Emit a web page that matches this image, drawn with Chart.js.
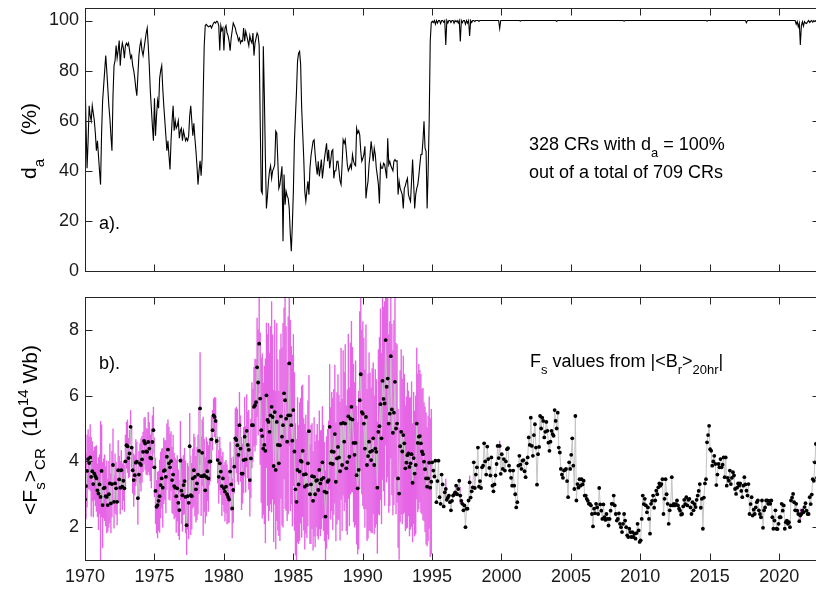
<!DOCTYPE html>
<html><head><meta charset="utf-8">
<script src="https://cdn.jsdelivr.net/npm/chart.js@4.4.1/dist/chart.umd.min.js"></script>
<style>
html,body{margin:0;padding:0;background:#fff;overflow:hidden;width:816px;height:589px;}
#c1{position:absolute;left:0;top:0;}
#c2{position:absolute;left:0;top:285px;}
</style></head><body>
<canvas id="c1" width="830" height="285"></canvas>
<canvas id="c2" width="830" height="304"></canvas>
<script>
// ---------------- data ----------------
const startYear = 1970.0;            // time of first Carrington rotation in the plot
const crLength = 27.2753 / 365.25;   // one Carrington rotation in years
const xTickYears = [1970, 1975, 1980, 1985, 1990, 1995, 2000, 2005, 2010, 2015, 2020];
const daTicks = [0, 20, 40, 60, 80, 100];
const fsTicks = [2, 4, 6, 8];

// d_a (%) per CR, 709 CRs
const daValues = [
 78,58,41,52,66,62,60,66,63,60,
 55,48,52,46,40,34.5,55,68,74,80,
 86,80,73,66,61,54,48,70,82,84,
 90,85,88,92,82,88,91,89,85,90,
 91,90,91,88,85,86,82,80,77,73,
 70,78,86,90,92,88,86,89,92,95,
 97,90,82,72,65,58,52,69,54,62,
 68,65,77,80,82,73,66,60,54,48,
 52,46,40.5,52,60,66,56,60,57,58,
 60,53,56,57,52,56,54,52,53,52,
 54,62,66,60,54,59,53,48,42,34.5,
 40,44,38,45,70,90,98,98.5,98,97.5,
 97.7,98,97,98,99,99.4,99,99.7,99.5,98,
 88,98,96,97,88,97,98,95,94,91.7,
 88,93,96,99,98,97,95,94,92,93,
 91,92,91.7,97,91.7,95.7,94,92,90,94,
 92,91,95,86,91,93,95,94,90,60,
 32,31,89.7,70,45,25,30,36,40,42,
 37,40,41,42.5,55.8,55,43.8,33,34.5,38,
 41.8,11.9,38.5,26.5,31.8,30,29,25,15,7.9,
 18.5,31.8,51.8,62,71.7,83.7,87,87.7,82.4,65,
 55,45,31.8,27.8,32,35.8,30.5,41,46,49,
 51.8,52.4,46.5,42,38.5,43.8,37.8,41,44.5,37,
 41,45,48,51,43.8,48.4,41,44,47.8,48.4,
 37,40,40,43.8,43.8,40,36,34.5,42.5,52.4,
 51,52.4,47.8,42.5,40,41,42.5,41,46.5,44,
 42.5,42,57,55,56,54.4,47.8,43.8,45,46.5,
 49.8,29,33,35.8,42.5,46.5,51.8,48,43.8,49,
 46.5,41,38,34.5,27,42.5,41,41,43,42.5,
 40,37,53,42.5,43.8,42,41,40,43.8,44.5,
 43.8,44,30.5,35.8,33,31.8,30.5,25,33,34,
 35.8,37,30.5,29,27.8,35.8,44.5,35,25,30.5,
 33,34.5,38,42.5,46.5,46.5,52,59.8,49,47.8,
 25,40,60,91.7,99,
 99.7,99.2,100,98.5,100,99.0,100,100,98.8,100,100,99.3,100,90.2,100,99.0,100,100,99.2,100,
 100,98.9,100,99.5,100,99.0,100,91.6,100,99.1,100,100,98.5,100,99.0,100,93.8,100,99.2,100,
 100,99.6,100,100,100,99.7,100,100,100,100,100,100,100,100,100,100,100,100,100,100,
 100,100,100,100,100,96.8,100,100,100,100,100,100,100,100,100,100,100,100,100,100,
 100,100,100,100,100,99.8,100,100,100,100,100,100,100,100,100,100,100,100,100,100,
 100,100,100,100,100,100,100,100,100,100,100,100,100,100,100,100,100,100,100,100,
 99.7,100,100,100,100,100,100,100,100,100,100,100,100,100,100,100,100,100,100,100,
 100,100,100,100,100,100,100,100,100,100,100,100,100,100,100,100,100,100,100,100,
 100,100,100,100,100,100,100,100,100,100,100,100,100,100,100,100,100,100,100,100,
 100,100,100,100,100,99.8,100,100,100,100,100,100,100,100,100,100,100,100,100,100,
 100,100,100,100,100,100,100,100,100,100,100,100,100,100,100,100,100,100,100,100,
 100,100,100,100,100,100,100,100,100,100,100,100,100,100,100,100,100,100,100,100,
 100,100,100,100,100,100,100,100,100,100,100,100,100,100,100,100,100,100,100,100,
 100,100,100,100,100,99.8,100,100,100,100,100,100,100,100,100,100,100,100,100,100,
 100,100,100,100,100,100,100,100,100,100,100,100,100,100,100,100,100,100,100,100,
 100,100,100,99.1,100,100,100,100,100,100,100,100,100,100,100,100,100,100,100,100,
 100,100,100,100,100,100,100,100,100,100,100,100,100,100,100,100,100,100,100,100,
 100,100,100,100,100,100,100,100,100,100,100,98.5,99.6,97.5,99.0,90.2,98.0,99.5,97.8,99.6,
 99.0,98.8,99.5,100,99.2,99.7,100,99.3,100,99.6,100,100,100,100
];

// <F_s>_CR (10^14 Wb) per CR, 709 CRs
const fsValues = [
 2.84,3.25,3.71,4.07,3.95,4.12,3.53,3.7,3.31,3.63,
 3.55,3.48,3.12,3.02,3.3,2.92,3.71,2.67,3.18,3.2,
 2.94,2.92,2.67,3.0,3.33,2.72,3.31,3.89,2.77,3.33,
 3.18,2.77,3.73,3.45,3.2,3.73,3.23,3.41,3.18,4.0,
 4.49,4.46,4.1,4.24,5.05,4.42,3.73,3.43,3.58,3.96,
 3.99,2.88,3.6,3.94,3.89,4.06,4.29,4.62,4.54,4.3,
 4.29,4.59,4.39,4.11,4.09,4.59,4.95,3.82,3.1,2.62,
 2.67,2.8,2.94,3.28,3.48,3.2,3.71,3.73,3.53,4.14,
 4.36,3.94,3.82,4.01,3.43,3.6,3.25,3.2,2.94,3.18,
 2.74,2.52,4.02,3.11,2.97,3.28,3.4,2.92,2.06,2.94,
 2.74,4.46,2.97,2.94,3.48,3.73,3.53,3.15,3.33,3.6,
 4.32,5.61,3.55,4.26,3.55,3.58,3.12,3.53,3.7,3.48,
 3.99,4.0,4.67,4.95,5.4,5.35,5.23,4.62,4.04,3.53,
 3.94,3.69,3.25,3.48,3.18,3.08,3.23,3.0,2.92,2.84,
 3.69,3.3,2.57,3.13,3.84,4.7,4.65,4.49,4.2,5.1,
 4.39,3.63,3.63,4.04,4.75,4.06,4.93,4.5,4.35,3.43,
 4.09,5.1,5.1,5.66,5.71,5.8,6.86,6.4,7.58,5.91,
 4.95,4.77,4.39,4.5,4.32,6.01,5.26,5.2,4.9,5.4,
 5.66,5.35,3.86,5.5,3.74,5.2,4.5,3.94,4.49,5.37,
 4.75,5.1,6.07,5.86,5.3,4.6,5.4,6.98,5.4,5.1,
 4.63,5.56,4.3,3.15,2.77,3.74,3.3,3.69,4.02,3.99,
 4.32,3.6,3.23,3.61,3.28,3.94,4.92,3.0,3.3,3.55,
 2.8,3.53,3.0,3.41,3.43,3.13,3.74,3.33,3.45,3.97,
 3.5,3.08,2.32,3.05,3.38,3.43,5.05,3.94,4.3,3.92,
 4.29,4.83,3.38,4.09,4.44,4.12,3.7,5.15,3.89,5.17,
 4.6,5.15,3.79,3.98,5.37,4.14,5.3,5.66,5.27,4.56,
 4.2,4.56,3.58,3.18,3.74,5.86,6.65,5.5,5.45,5.15,
 4.39,5.35,3.89,4.16,4.6,4.29,4.04,4.32,4.7,3.89,
 4.39,4.29,3.2,4.9,5.07,5.74,4.7,6.45,5.9,5.76,
 7.69,6.27,6.52,5.15,5.45,7.2,5.58,4.87,5.48,6.42,
 5.0,5.15,3.48,3.02,4.46,4.9,4.3,4.8,4.55,3.79,
 3.96,4.19,4.24,3.83,3.94,4.22,3.35,4.1,3.63,3.89,
 5.15,4.56,4.75,4.77,4.55,4.3,4.22,3.99,3.76,3.48,
 3.23,3.48,3.96,3.2,3.38,
 3.97,3.72,3.54,4.02,2.76,3.4,4.02,2.91,2.71,3.6,
 3.3,2.63,3.06,3.16,2.83,2.9,2.96,2.76,2.51,2.8,
 2.96,2.99,3.06,3.26,3.0,3.16,3.41,2.96,2.8,2.71,
 2.51,2.66,2.0,2.56,2.56,2.81,3.36,2.9,3.09,3.21,
 3.97,3.19,3.6,3.82,4.42,3.23,3.4,3.19,3.82,3.87,
 4.55,4.0,3.6,4.45,4.07,3.8,3.57,4.12,3.26,3.09,
 3.3,3.57,3.92,4.47,4.1,4.47,3.62,4.22,3.77,4.07,
 3.72,4.0,4.37,4.4,3.87,3.72,3.5,3.26,3.72,3.26,
 3.0,2.6,2.76,3.87,4.17,3.9,3.77,4.02,4.04,3.7,
 3.52,3.94,4.12,4.73,4.5,5.33,4.47,4.17,4.8,5.13,
 4.42,3.29,4.22,4.44,5.38,5.0,5.33,5.23,4.73,4.9,
 5.2,4.93,4.57,4.32,4.6,4.93,4.83,4.78,5.56,5.23,
 5.0,5.48,4.42,4.27,3.77,3.6,3.5,3.72,3.74,3.77,
 3.4,2.91,3.97,3.77,4.2,4.7,3.87,3.16,5.38,2.81,
 3.31,3.2,3.46,3.26,3.46,3.3,3.41,2.96,2.96,2.86,
 2.8,2.71,2.71,2.66,2.4,2.02,2.56,2.42,2.71,2.6,
 2.4,3.19,2.69,2.5,2.25,2.69,2.3,2.22,2.4,2.25,
 2.05,2.25,2.5,2.71,2.71,2.96,2.66,2.4,2.2,2.25,
 2.42,2.1,2.0,1.85,2.1,2.4,2.2,2.0,1.75,1.7,
 1.95,1.85,1.7,1.85,1.7,1.8,1.65,1.82,2.1,1.9,
 1.55,1.6,2.25,2.96,2.7,2.86,2.66,2.45,2.6,2.25,
 1.8,2.71,2.8,2.96,2.59,2.81,3.11,3.0,3.21,3.33,
 3.26,3.31,3.46,2.4,2.86,3.46,3.0,2.71,2.1,2.51,
 2.66,3.52,2.66,2.71,2.66,2.7,2.81,2.66,2.56,2.5,
 2.38,2.4,2.63,2.83,2.7,2.91,2.66,2.83,2.86,2.6,
 2.4,2.76,2.51,2.7,2.61,2.83,2.96,3.1,3.31,2.59,
 2.86,1.95,2.9,3.33,3.46,4.58,4.8,5.08,4.37,4.32,
 3.87,4.0,4.17,3.92,3.28,3.6,3.92,3.82,4.07,3.82,
 3.9,4.12,3.52,4.12,3.26,3.5,3.41,3.72,3.31,3.5,
 3.67,3.57,3.16,3.01,3.2,3.33,3.26,3.33,3.1,2.91,
 3.26,3.52,3.3,3.11,2.96,3.31,2.4,2.7,2.91,2.35,
 2.53,2.4,2.6,2.76,2.81,2.51,2.4,2.3,2.81,1.98,
 2.51,2.6,2.81,2.81,2.71,2.8,2.71,2.81,2.3,1.95,
 2.2,2.51,1.95,1.94,2.1,2.3,2.3,2.71,2.5,2.66,
 1.95,2.15,2.2,2.1,2.15,2.0,2.81,2.9,3.01,2.76,
 2.51,2.71,2.5,2.4,2.18,2.35,2.4,2.51,2.45,2.61,
 2.73,2.5,2.4,2.4,2.91,2.7,2.99,3.46,3.41,3.97,
 4.53,3.5,4.4,4.6
];

// half-length of the error bar, CRs 0..334 (before 1995)
const fsErrPre = [
 0.9,1.0,1.1,0.9,0.8,1.0,1.2,0.9,1.0,0.8,
 0.9,1.0,0.8,1.1,0.9,2.3,1.4,1.3,0.9,1.0,
 0.9,1.1,0.8,1.0,1.2,0.9,1.0,1.1,0.8,0.9,
 0.8,0.7,0.9,0.7,0.8,0.6,0.7,0.6,0.7,0.8,
 0.7,0.8,0.6,0.7,0.5,0.6,0.7,0.8,0.6,0.7,
 0.6,0.8,0.7,0.6,0.8,0.7,0.6,0.7,0.8,0.7,
 0.7,0.9,0.8,0.7,0.9,0.8,0.7,0.9,1.0,0.8,
 1.0,0.9,1.1,1.0,0.9,1.2,1.0,0.9,1.1,1.0,
 0.9,1.1,1.0,0.9,1.0,1.2,1.0,0.9,1.1,1.0,
 1.0,0.9,1.2,1.0,1.1,0.9,1.0,1.1,0.9,1.0,
 1.1,1.0,1.2,1.0,0.9,1.1,1.2,1.0,1.1,1.2,
 1.3,1.7,1.2,1.0,1.8,1.1,1.0,1.2,0.9,1.0,
 0.7,0.6,0.7,0.6,0.5,0.6,0.7,0.6,0.7,0.8,
 0.8,0.7,0.9,0.8,0.7,0.9,0.8,0.9,0.8,0.7,
 0.9,0.8,0.9,1.0,0.8,0.9,1.0,1.1,0.9,1.0,
 1.0,1.1,0.9,1.0,1.2,1.0,1.1,1.0,1.2,1.1,
 1.2,1.3,1.1,1.2,1.4,1.3,1.5,1.6,1.5,2.0,
 2.2,2.5,2.0,2.4,2.8,2.2,2.6,3.0,2.4,2.7,
 3.2,2.5,2.3,2.8,2.4,3.0,2.6,2.2,2.9,2.5,
 2.7,3.1,2.6,3.3,2.8,2.4,3.0,2.5,2.9,2.4,
 2.6,2.3,2.4,2.0,1.9,2.2,1.8,2.1,1.9,2.3,
 2.0,1.7,1.9,1.8,1.6,1.9,1.7,1.5,1.8,1.6,
 1.5,1.8,1.6,1.4,1.7,1.5,1.8,1.6,1.5,1.7,
 1.6,1.5,1.4,1.7,1.6,1.8,1.9,1.7,1.8,2.0,
 1.9,2.1,1.8,2.0,2.2,1.9,2.1,2.3,2.0,2.2,
 2.1,2.4,1.9,2.2,2.5,2.1,2.3,2.6,2.2,2.4,
 2.2,2.5,2.1,2.0,2.4,2.7,2.9,2.5,2.8,2.6,
 2.4,2.8,2.3,2.5,2.7,2.4,2.2,2.5,2.3,2.1,
 2.4,2.2,2.0,2.5,2.7,2.9,2.6,3.0,2.8,3.1,
 3.2,2.9,3.0,2.7,2.8,3.1,2.6,2.5,2.8,2.9,
 2.6,2.4,2.1,2.0,2.3,2.5,2.2,2.4,2.1,1.9,
 2.0,2.2,1.9,2.1,2.0,2.2,1.8,2.0,1.9,2.1,
 2.3,2.1,2.2,2.0,2.1,1.9,2.0,1.8,1.9,2.0,
 1.8,1.9,2.0,2.1,2.2
];
// after 1995: [CR index, half-length] for the few CRs with d_a < 100 %
const fsErrPost = [[348, 0.3], [362, 0.25], [371, 0.2], [400, 0.15], [690, 0.2]];

// ---------------- helpers ----------------
const FAM = '"Liberation Sans", Arial, Helvetica, sans-serif';
const crTime = i => startYear + i * crLength;
const xMax = crTime(daValues.length - 1);
Chart.defaults.font.family = FAM;

function drawRuns(ctx, runs, x, y, size, align) {
  const sc = 0.72;
  let w = 0;
  const ws = runs.map(([t, k]) => { ctx.font = (k ? size * sc : size) + 'px ' + FAM; const m = ctx.measureText(t).width; w += m; return m; });
  let cx = align === 'center' ? x - w / 2 : x;
  runs.forEach(([t, k], i) => {
    ctx.font = (k ? size * sc : size) + 'px ' + FAM;
    const dy = k === 1 ? size * 0.38 : (k === 2 ? -size * 0.42 : 0);
    ctx.fillText(t, cx, y + dy);
    cx += ws[i];
  });
}
function drawRotated(ctx, runs, x, y, size) {
  ctx.save(); ctx.translate(x, y); ctx.rotate(-Math.PI / 2);
  drawRuns(ctx, runs, 0, 0, size, 'center');
  ctx.restore();
}

const framePlugin = {
  id: 'frame',
  afterDraw(chart, args, opts) {
    const { ctx, chartArea: a, scales: { x, y } } = chart;
    ctx.save();
    ctx.strokeStyle = '#262626'; ctx.lineWidth = 1;
    const L = Math.round(a.left) + 0.5, T = Math.round(a.top) + 0.5, R = Math.round(a.right) + 0.5, B = Math.round(a.bottom) + 0.5;
    ctx.strokeRect(L, T, R - L, B - T);
    ctx.beginPath();
    const tl = 7;
    for (const v of opts.xt) { const px = Math.round(x.getPixelForValue(v)) + 0.5; ctx.moveTo(px, B); ctx.lineTo(px, B - tl); ctx.moveTo(px, T); ctx.lineTo(px, T + tl); }
    for (const v of opts.yt) { const py = Math.round(y.getPixelForValue(v)) + 0.5; ctx.moveTo(L, py); ctx.lineTo(L + tl, py); ctx.moveTo(R, py); ctx.lineTo(R - tl, py); }
    ctx.stroke();
    ctx.restore();
  }
};

const textTop = {
  id: 'textTop',
  afterDraw(chart) {
    const ctx = chart.ctx;
    ctx.save(); ctx.fillStyle = '#000'; ctx.textBaseline = 'alphabetic'; ctx.textAlign = 'left';
    drawRotated(ctx, [['d', 0], ['a', 1], ['    (%)', 0]], 36, 141, 21);
    drawRuns(ctx, [['328 CRs with d', 0], ['a', 1], [' = 100%', 0]], 529, 150, 18, 'left');
    drawRuns(ctx, [['out of a total of 709 CRs', 0]], 529, 178, 18, 'left');
    drawRuns(ctx, [['a).', 0]], 99, 229, 18, 'left');
    ctx.restore();
  }
};
const textBottom = {
  id: 'textBottom',
  afterDraw(chart) {
    const ctx = chart.ctx;
    ctx.save(); ctx.fillStyle = '#000'; ctx.textBaseline = 'alphabetic'; ctx.textAlign = 'left';
    drawRotated(ctx, [['<F', 0], ['s', 1], ['>', 0], ['CR', 1], ['  (10', 0], ['14', 2], [' Wb)', 0]], 37, 145, 21);
    drawRuns(ctx, [['b).', 0]], 99, 84, 18, 'left');
    drawRuns(ctx, [['F', 0], ['s', 1], [' values from |<B', 0], ['r', 1], ['>', 0], ['20hr', 1], ['|', 0]], 530, 82, 18, 'left');
    ctx.restore();
  }
};

const tickFont = { size: 18, family: FAM };
function fixY(s) { s.width = 85; s.paddingTop = 0; s.paddingBottom = 0; }
function fixX(s) { s.height = 29; s.paddingLeft = 0; s.paddingRight = 0; }

// ---------------- top panel ----------------
new Chart(document.getElementById('c1'), {
  type: 'line',
  data: { datasets: [{
    data: daValues.map((v, i) => ({ x: crTime(i), y: v })),
    borderColor: '#000', borderWidth: 1.1, pointRadius: 0, tension: 0
  }] },
  options: {
    responsive: false, animation: false, devicePixelRatio: 1,
    layout: { padding: { left: 0, right: 11, top: 8, bottom: 14 } },
    plugins: { legend: { display: false }, tooltip: { enabled: false }, frame: { xt: xTickYears, yt: daTicks } },
    scales: {
      x: { type: 'linear', min: startYear, max: xMax, display: false, offset: false },
      y: { type: 'linear', min: 0, max: 105,
        afterFit: fixY,
        afterBuildTicks(s) { s.ticks = daTicks.map(v => ({ value: v })); },
        grid: { display: false, drawTicks: false }, border: { display: false },
        ticks: { padding: 6, color: '#1a1a1a', font: tickFont, callback: v => String(v) } }
    }
  },
  plugins: [framePlugin, textTop]
});

// ---------------- bottom panel ----------------
const errBars = [];
fsErrPre.forEach((e, i) => errBars.push({ x: crTime(i), y: [fsValues[i] - e, fsValues[i] + e] }));
fsErrPost.forEach(([i, e]) => errBars.push({ x: crTime(i), y: [fsValues[i] - e, fsValues[i] + e] }));

new Chart(document.getElementById('c2'), {
  type: 'line',
  data: { datasets: [
    { type: 'bar', data: errBars, backgroundColor: 'rgb(230,100,230)', borderWidth: 0, barThickness: 0.7, grouped: false, order: 2 },
    { type: 'line', data: fsValues.map((v, i) => ({ x: crTime(i), y: v })),
      borderColor: '#c4c4c4', borderWidth: 1, tension: 0,
      pointRadius: 1.9, pointBackgroundColor: '#000', pointBorderWidth: 0, order: 1 }
  ] },
  options: {
    responsive: false, animation: false, devicePixelRatio: 1,
    layout: { padding: { left: 0, right: 11, top: 12, bottom: 0 } },
    plugins: { legend: { display: false }, tooltip: { enabled: false }, frame: { xt: xTickYears, yt: fsTicks } },
    scales: {
      x: { type: 'linear', min: startYear, max: xMax, offset: false,
        afterFit: fixX,
        afterBuildTicks(s) { s.ticks = xTickYears.map(v => ({ value: v })); },
        grid: { display: false, drawTicks: false, offset: false }, border: { display: false },
        ticks: { padding: 6, color: '#1a1a1a', font: tickFont, maxRotation: 0, autoSkip: false, callback: v => String(v) } },
      y: { type: 'linear', min: 1, max: 9,
        afterFit: fixY,
        afterBuildTicks(s) { s.ticks = fsTicks.map(v => ({ value: v })); },
        grid: { display: false, drawTicks: false }, border: { display: false },
        ticks: { padding: 6, color: '#1a1a1a', font: tickFont, callback: v => String(v) } }
    }
  },
  plugins: [framePlugin, textBottom]
});
</script>
</body></html>
